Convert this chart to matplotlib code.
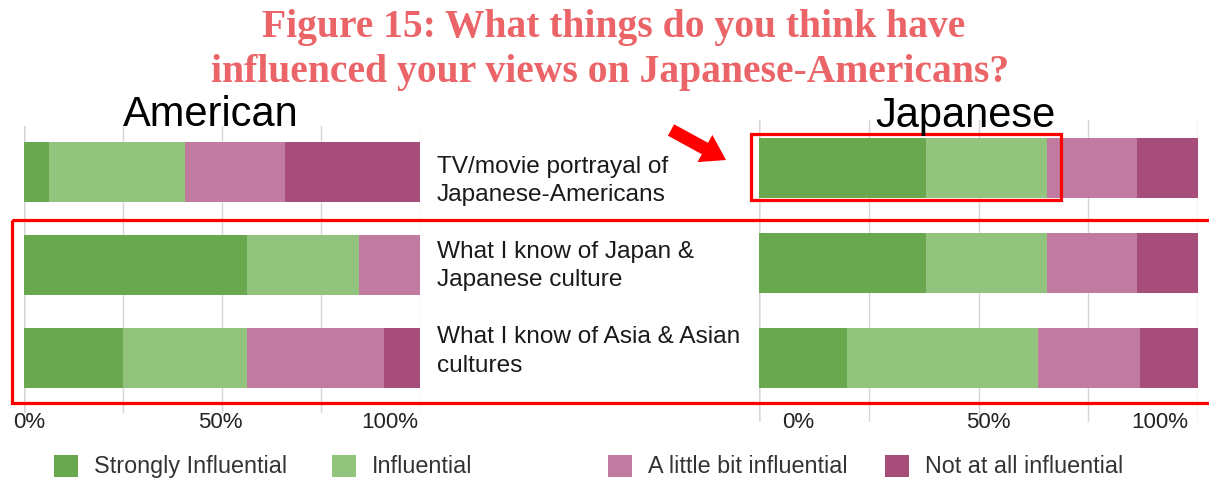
import matplotlib.pyplot as plt
from matplotlib.patches import Rectangle, FancyArrow

# Survey answers, percent of respondents per group
categories = [
    ["TV/movie portrayal of", "Japanese-Americans"],
    ["What I know of Japan &", "Japanese culture"],
    ["What I know of Asia & Asian", "cultures"],
]
levels = ["Strongly Influential", "Influential", "A little bit influential", "Not at all influential"]

american_strong = [6.2, 56.4, 25.0]
american_infl = [34.5, 28.2, 31.4]
american_little = [25.1, 15.4, 34.6]
american_not = [34.2, 0.0, 9.0]

japanese_strong = [38.0, 38.0, 20.0]
japanese_infl = [27.5, 27.5, 43.5]
japanese_little = [20.7, 20.7, 23.3]
japanese_not = [13.8, 13.8, 13.2]

colors = ["#6aa84f", "#93c47d", "#c27ba0", "#a64d79"]
W, H = 1209, 480

plt.rcParams['font.family'] = ['Liberation Sans', 'DejaVu Sans']
fig = plt.figure(figsize=(W / 100, H / 100), dpi=100)


def stacked(ax, series, bar_h, ylim):
    rows = list(range(len(categories)))
    left = [0.0] * len(rows)
    for vals, c in zip(series, colors):
        ax.barh(rows, vals, left=left, height=bar_h, color=c, edgecolor='none', zorder=2)
        left = [a + b for a, b in zip(left, vals)]
    ax.set_xlim(0, 100)
    ax.set_ylim(*ylim)
    ax.set_xticks([0, 25, 50, 75, 100])
    ax.set_yticks([])
    ax.tick_params(length=0, labelbottom=False)
    ax.grid(axis='x', color='#d6d6d6', lw=1, zorder=0)
    for s in ax.spines.values():
        s.set_visible(False)
    ax.axvline(0, color='#9a9a9a', lw=1, zorder=1)


ax_am = fig.add_axes([24 / W, 1 - 413 / H, 396 / W, 287 / H])
stacked(ax_am, [american_strong, american_infl, american_little, american_not], 0.645, (2.595, -0.491))

ax_jp = fig.add_axes([759 / W, 1 - 421.7 / H, 439 / W, 301.7 / H])
stacked(ax_jp, [japanese_strong, japanese_infl, japanese_little, japanese_not], 0.632, (2.667, -0.508))

# overlay in pixel coordinates for titles, labels and highlights
ov = fig.add_axes([0, 0, 1, 1])
ov.set_xlim(0, W)
ov.set_ylim(H, 0)
ov.axis('off')

title_color = "#eb6468"
ov.text(614, 37, "Figure 15: What things do you think have", ha='center', va='baseline',
        fontsize=28.5, fontweight='bold', family='Liberation Serif', color=title_color)
ov.text(610, 82, "influenced your views on Japanese-Americans?", ha='center', va='baseline',
        fontsize=28.5, fontweight='bold', family='Liberation Serif', color=title_color)

ov.text(123, 126, "American", ha='left', va='baseline', fontsize=30, color='black')
ov.text(875, 127, "Japanese", ha='left', va='baseline', fontsize=30, color='black')

# percent labels
tick_kw = dict(va='baseline', fontsize=16, color='#222222')
ov.text(13, 428, "0%", ha='left', **tick_kw)
ov.text(220, 428, "50%", ha='center', **tick_kw)
ov.text(418, 428, "100%", ha='right', **tick_kw)
ov.text(782, 428, "0%", ha='left', **tick_kw)
ov.text(988, 428, "50%", ha='center', **tick_kw)
ov.text(1188, 428, "100%", ha='right', **tick_kw)

# category labels between the panels
baselines = [(173, 200.5), (257.7, 286), (343.3, 371.5)]
for (l1, l2), (b1, b2) in zip(categories, baselines):
    ov.text(437, b1, l1, ha='left', va='baseline', fontsize=17.6, color='#1a1a1a')
    ov.text(437, b2, l2, ha='left', va='baseline', fontsize=17.6, color='#1a1a1a')

# legend
for x, lab, c in zip([54, 332, 608, 885], levels, colors):
    ov.add_patch(Rectangle((x, 455), 24, 22, color=c, lw=0))
    ov.text(x + 40, 473, lab, ha='left', va='baseline', fontsize=16.8, color='#333333')

# highlights
ov.add_patch(Rectangle((12, 220), 1220, 182.5, fill=False, ec='#ff0000', lw=2.3))
ov.add_patch(Rectangle((751, 133.7), 310, 66.3, fill=False, ec='#ff0000', lw=2.3))
ov.add_patch(FancyArrow(671, 130, 55, 30, width=13, head_width=31, head_length=24,
                        length_includes_head=True, color='#ff0000', lw=0))

fig.savefig("out.png", dpi=100)
